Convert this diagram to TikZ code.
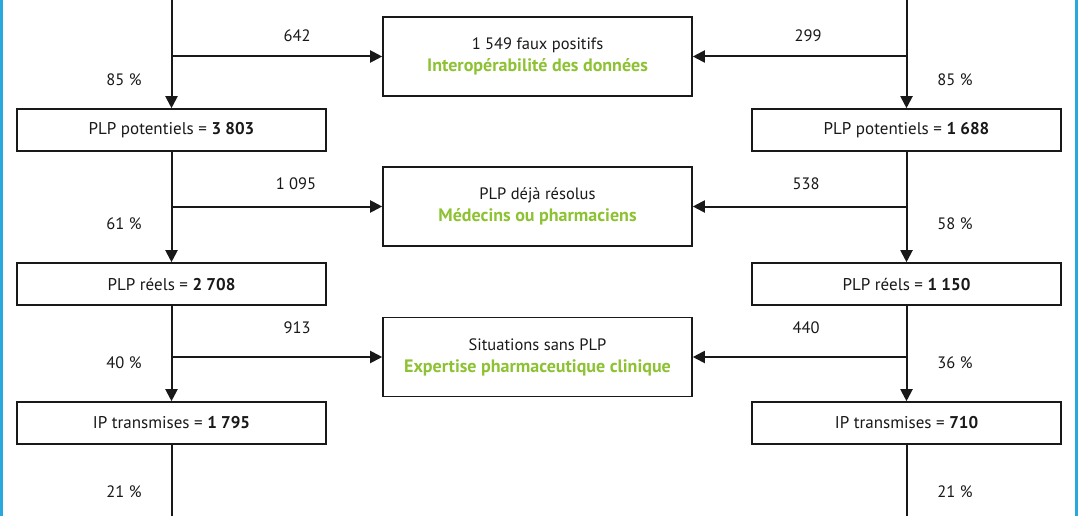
\documentclass[tikz,border=0pt]{standalone}
\usepackage{fontspec}
\setmainfont{PT Sans}
\usetikzlibrary{arrows.meta}
\definecolor{edgeblue}{RGB}{41,168,224}
\definecolor{leaf}{RGB}{141,194,51}
\definecolor{ink}{RGB}{25,25,25}
\tikzset{
  sidebox/.style={draw=ink, line width=1.6pt, minimum width=309pt, minimum height=42pt, inner sep=0pt, font=\fontsize{17}{20}\selectfont, text=ink},
  midbox/.style={draw=ink, line width=1.6pt, minimum width=309pt, minimum height=79pt, inner sep=0pt, align=center, font=\fontsize{16.5}{22}\selectfont, text=ink},
  flow/.style={draw=ink, line width=2pt, -{Triangle[length=12pt,width=12pt]}},
  plain/.style={draw=ink, line width=2pt},
  lab/.style={font=\fontsize{16.5}{20}\selectfont, text=ink, inner sep=0pt}
}
\newcommand{\greenline}[1]{{\color{leaf}\bfseries\fontsize{18}{22}\selectfont #1}}
\begin{document}
\begin{tikzpicture}[x=1pt,y=-1pt]
\useasboundingbox (0,0) rectangle (1078,516);
\fill[white] (0,0) rectangle (1078,516);
\fill[edgeblue] (0,0) rectangle (3,516);
\fill[edgeblue] (1075,0) rectangle (1078,516);

% left column
\coordinate (lt) at (171.5,0);
\coordinate (lb) at (171.5,516);
\node[sidebox] (l1) at (171.5,130) {PLP potentiels = \textbf{3 803}};
\node[sidebox] (l2) at (171.5,284) {PLP réels = \textbf{2 708}};
\node[sidebox] (l3) at (171.5,423) {IP transmises = \textbf{1 795}};

% right column
\coordinate (rt) at (906.5,0);
\coordinate (rb) at (906.5,516);
\node[sidebox] (r1) at (906.5,130) {PLP potentiels = \textbf{1 688}};
\node[sidebox] (r2) at (906.5,284) {PLP réels = \textbf{1 150}};
\node[sidebox] (r3) at (906.5,423) {IP transmises = \textbf{710}};

% middle boxes
\node[midbox] (m1) at (537.5,56.5) {1 549 faux positifs\\\greenline{Interopérabilité des données}};
\node[midbox] (m2) at (537.5,206.5) {PLP déjà résolus\\\greenline{Médecins ou pharmaciens}};
\node[midbox] (m3) at (537.5,357) {Situations sans PLP\\\greenline{Expertise pharmaceutique clinique}};

% vertical flows
\draw[flow] (lt) -- (l1.north);
\draw[flow] (l1.south) -- (l2.north);
\draw[flow] (l2.south) -- (l3.north);
\draw[plain] (l3.south) -- (lb);
\draw[flow] (rt) -- (r1.north);
\draw[flow] (r1.south) -- (r2.north);
\draw[flow] (r2.south) -- (r3.north);
\draw[plain] (r3.south) -- (rb);

% horizontal flows
\draw[flow] (l1.north |- m1.west) -- (m1.west);
\draw[flow] (l2.north |- m2.west) -- (m2.west);
\draw[flow] (l3.north |- m3.west) -- (m3.west);
\draw[flow] (r1.north |- m1.east) -- (m1.east);
\draw[flow] (r2.north |- m2.east) -- (m2.east);
\draw[flow] (r3.north |- m3.east) -- (m3.east);

% labels
\node[lab] (a1) at (297,36) {642};
\node[lab] (a2) at (808,36) {299};
\node[lab] (a3) at (124,80) {85 \%};
\node[lab] (a4) at (955,80) {85 \%};
\node[lab] (b1) at (296,184) {1 095};
\node[lab] (b2) at (806,184) {538};
\node[lab] (b3) at (124,224) {61 \%};
\node[lab] (b4) at (955,224) {58 \%};
\node[lab] (c1) at (297,328) {913};
\node[lab] (c2) at (806,328) {440};
\node[lab] (c3) at (124,363) {40 \%};
\node[lab] (c4) at (955,363) {36 \%};
\node[lab] (d1) at (124,492) {21 \%};
\node[lab] (d2) at (955,492) {21 \%};
\end{tikzpicture}
\end{document}
